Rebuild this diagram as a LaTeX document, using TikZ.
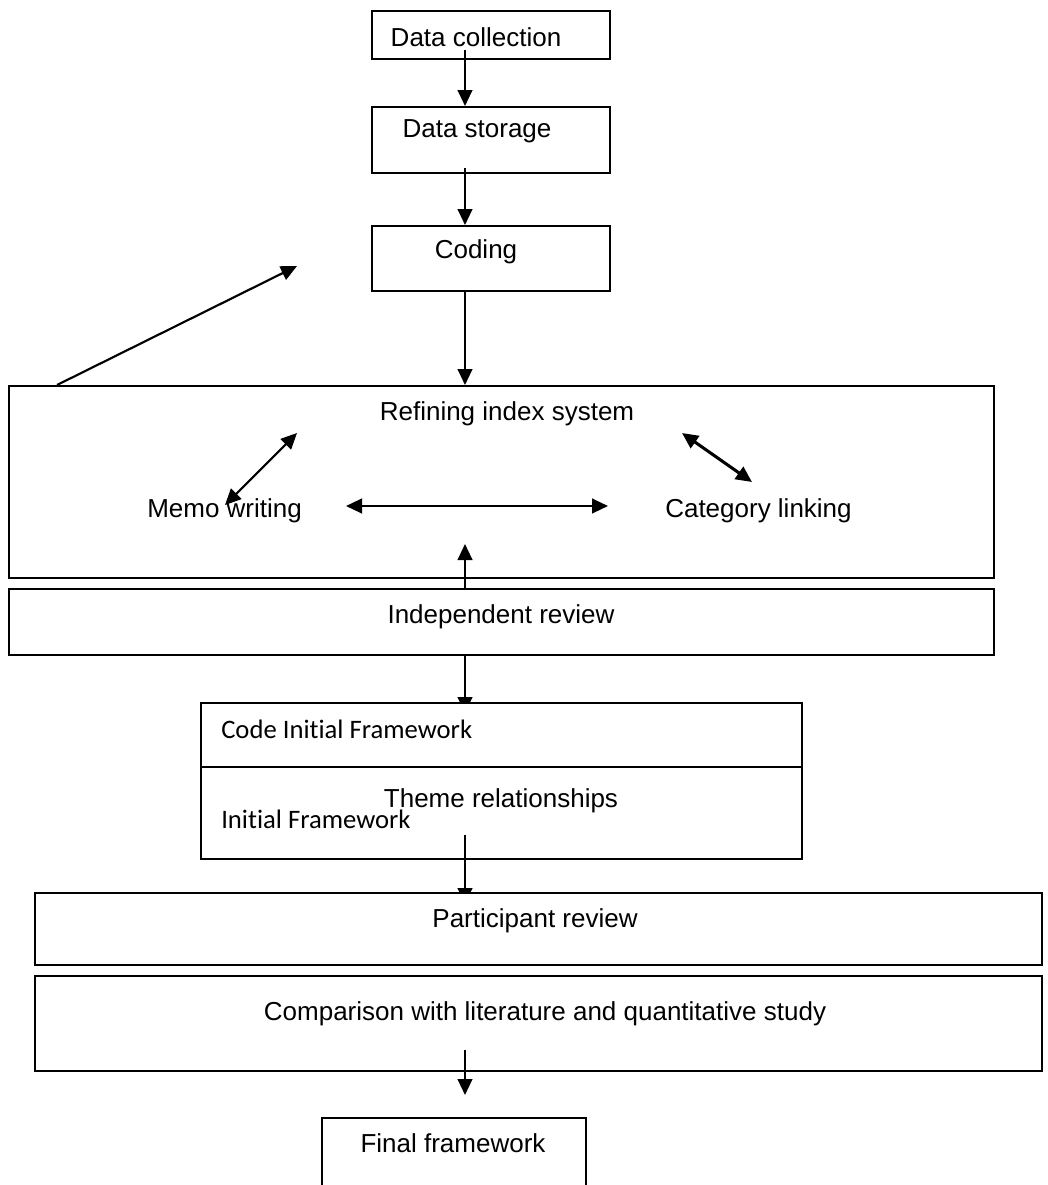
\documentclass[tikz,border=0pt]{standalone}
\usepackage{fontspec}
\setmainfont{Liberation Sans}
\newfontfamily\calfont[Ligatures=NoCommon]{Carlito}
\usetikzlibrary{arrows.meta,calc}
\pgfdeclarelayer{lone}
\pgfdeclarelayer{ltwo}
\pgfdeclarelayer{lthree}
\pgfsetlayers{lone,ltwo,lthree,main}
\begin{document}
\begin{tikzpicture}[x=0.75pt,y=-0.75pt,
  box/.style={draw, line width=1.5pt, fill=white, inner sep=0pt, anchor=north west},
  lbl/.style={inner sep=0pt, font=\fontsize{19.5}{23}\selectfont, anchor=base},
  lblw/.style={inner sep=0pt, font=\fontsize{19.5}{23}\selectfont, anchor=base west},
  clbl/.style={inner sep=0pt, font=\calfont\fontsize{20}{24}\selectfont, anchor=base west},
  tipk/.tip={Triangle[length=12pt,width=11pt]},
  arr/.style={line width=1.6pt, -tipk},
  darr/.style={line width=1.6pt, tipk-tipk}]
\useasboundingbox (0,0) rectangle (1048,1185);
\clip (0,0) rectangle (1048,1185);
\coordinate (ax) at (465,0);

% boxes
\node[box, minimum width=178.5pt, minimum height=36pt] (dc) at (371,10) {};
\node[box, minimum width=178.5pt, minimum height=49.5pt] (ds) at (371,106) {};
\node[box, minimum width=178.5pt, minimum height=48.75pt] (cod) at (371,225) {};
\node[box, minimum width=738.75pt, minimum height=144pt] (ref) at (8,385) {};
\node[box, minimum width=738.75pt, minimum height=49.5pt] (ind) at (8,588) {};
\begin{pgfonlayer}{ltwo}
\node[box, minimum width=450.75pt, minimum height=117pt] (cif) at (200,702) {};
\draw[line width=1.5pt] ($(cif.north west)+(0,65)$) -- ($(cif.north east)+(0,65)$);
\end{pgfonlayer}
\node[box, minimum width=755.25pt, minimum height=54pt] (par) at (34,892) {};
\node[box, minimum width=755.25pt, minimum height=71.25pt] (cmp) at (34,975) {};
\node[box, minimum width=198pt, minimum height=70pt] (fin) at (321,1117) {};

% texts
\node[lbl] (tdc) at (476,46) {Data collection};
\node[lbl] (tds) at (477,137) {Data storage};
\node[lbl] (tcod) at (476,258) {Coding};
\node[lbl] (tref) at (507,420) {Refining index system};
\node[lblw] (tmemo) at (147,517) {Memo writing};
\node[lblw] (tcat) at (665,517) {Category linking};
\node[lbl] (tind) at (501,623) {Independent review};
\node[clbl] (tcode) at (221,738) {Code Initial Framework};
\node[lbl] (ttheme) at (501,807) {Theme relationships};
\node[clbl] (tinit) at (221,828) {Initial Framework};
\node[lbl] (tpar) at (535,927) {Participant review};
\node[lbl] (tcmp) at (545,1020) {Comparison with literature and quantitative study};
\node[lbl] (tfin) at (453,1152) {Final framework};

% free coordinates
\coordinate (dgA) at ($(ref.north west)+(49,0)$);
\coordinate (dgB) at (297,266);
\coordinate (mA) at (225,505);
\coordinate (mB) at (297,433);
\coordinate (hA) at (346,506);
\coordinate (hB) at (608,506);
\coordinate (cA) at (682,433);
\coordinate (cB) at (752,482);

% connectors
\draw[arr] ([yshift=7.5pt]dc.south -| ax) -- (ds.north -| ax);
\draw[arr] ([yshift=4.5pt]ds.south -| ax) -- (cod.north -| ax);
\draw[arr] (cod.south -| ax) -- (ref.north -| ax);
\draw[arr] (dgA) -- (dgB);
\draw[darr] (mA) -- (mB);
\draw[darr] (hA) -- (hB);
\draw[darr, line width=2.3pt] (cA) -- (cB);
\draw[arr] (ind.north -| ax) -- ([yshift=26.25pt]ref.south -| ax);
\begin{pgfonlayer}{lone}
\draw[arr] (ind.south -| ax) -- ([yshift=-8.25pt]cif.north -| ax);
\end{pgfonlayer}
\begin{pgfonlayer}{lthree}
\draw[arr] ([yshift=18.75pt]cif.south -| ax) -- ([yshift=-9pt]par.north -| ax);
\end{pgfonlayer}
\draw[arr] ([yshift=16.5pt]cmp.south -| ax) -- ([yshift=16.5pt]fin.north -| ax);
\end{tikzpicture}
\end{document}
